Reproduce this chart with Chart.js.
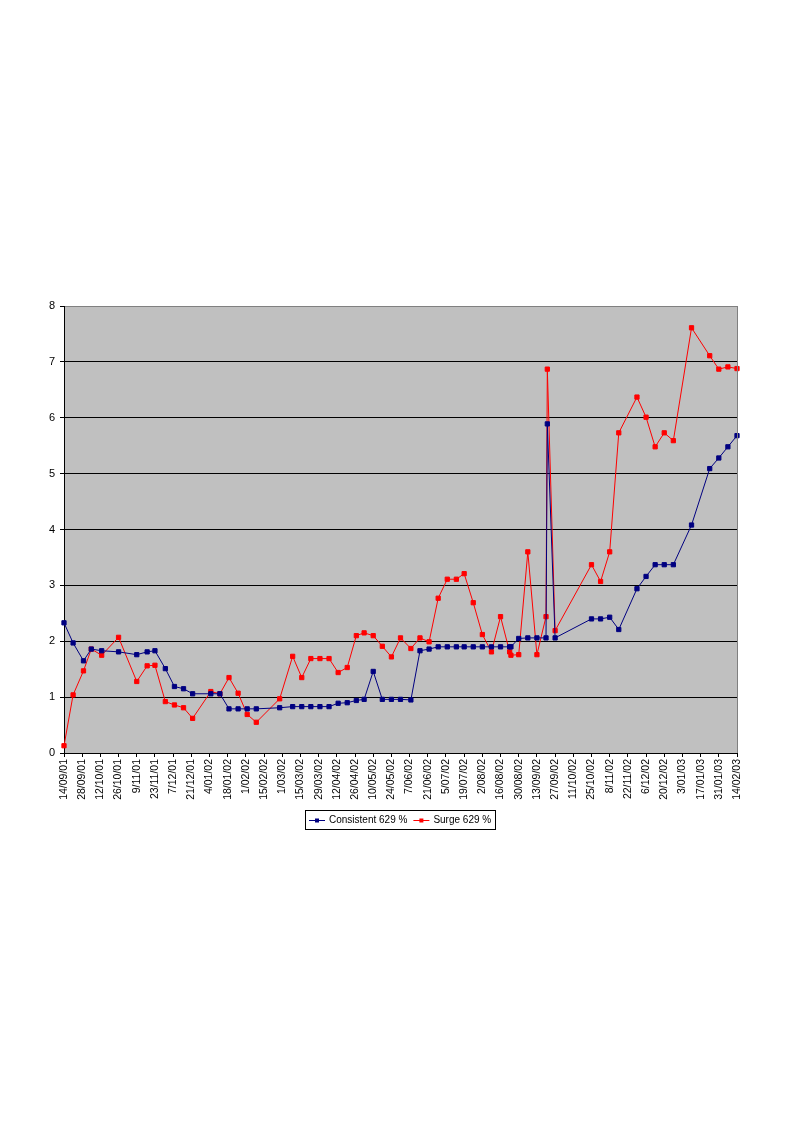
<!DOCTYPE html>
<html>
<head>
<meta charset="utf-8">
<script src="https://cdn.jsdelivr.net/npm/chart.js@4/dist/chart.umd.min.js"></script>
<style>
  html, body { margin: 0; padding: 0; background: #fff; }
  #wrap { position: absolute; left: 0; top: 0; width: 794px; height: 1123px; }
</style>
</head>
<body>
<div id="wrap"><canvas id="priceChart" width="794" height="1123"></canvas></div>
<script>
// data
const startDate = "2001-09-14";
const endDate = "2003-02-14";
const dates = [
  "2001-09-14", "2001-09-21", "2001-09-29", "2001-10-05", "2001-10-13", "2001-10-26",
  "2001-11-09", "2001-11-17", "2001-11-23", "2001-12-01", "2001-12-08", "2001-12-15",
  "2001-12-22", "2002-01-05", "2002-01-12", "2002-01-19", "2002-01-26", "2002-02-02",
  "2002-02-09", "2002-02-27", "2002-03-09", "2002-03-16", "2002-03-23", "2002-03-30",
  "2002-04-06", "2002-04-13", "2002-04-20", "2002-04-27", "2002-05-03", "2002-05-10",
  "2002-05-17", "2002-05-24", "2002-05-31", "2002-06-08", "2002-06-15", "2002-06-22",
  "2002-06-29", "2002-07-06", "2002-07-13", "2002-07-19", "2002-07-26", "2002-08-02",
  "2002-08-09", "2002-08-16", "2002-08-23", "2002-08-24", "2002-08-30", "2002-09-06",
  "2002-09-13", "2002-09-20", "2002-09-21", "2002-09-27", "2002-10-25", "2002-11-01",
  "2002-11-08", "2002-11-15", "2002-11-29", "2002-12-06", "2002-12-13", "2002-12-20",
  "2002-12-27", "2003-01-10", "2003-01-24", "2003-01-31", "2003-02-07", "2003-02-14"
];
const consistent = [
  2.33, 1.97, 1.65, 1.86, 1.83, 1.81,
  1.76, 1.81, 1.83, 1.51, 1.19, 1.15,
  1.06, 1.06, 1.06, 0.79, 0.79, 0.79,
  0.79, 0.81, 0.83, 0.83, 0.83, 0.83,
  0.83, 0.89, 0.90, 0.94, 0.96, 1.46,
  0.96, 0.96, 0.96, 0.95, 1.83, 1.86,
  1.90, 1.90, 1.90, 1.90, 1.90, 1.90,
  1.90, 1.90, 1.90, 1.90, 2.05, 2.06,
  2.06, 2.06, 5.89, 2.06, 2.40, 2.40,
  2.43, 2.21, 2.94, 3.16, 3.37, 3.37,
  3.37, 4.08, 5.09, 5.28, 5.48, 5.68
];
const surge = [
  0.13, 1.04, 1.47, 1.86, 1.75, 2.07,
  1.28, 1.56, 1.57, 0.92, 0.86, 0.81,
  0.62, 1.10, 1.06, 1.35, 1.07, 0.69,
  0.55, 0.97, 1.73, 1.35, 1.69, 1.69,
  1.69, 1.44, 1.53, 2.10, 2.15, 2.10,
  1.91, 1.72, 2.06, 1.87, 2.06, 1.99,
  2.77, 3.11, 3.11, 3.21, 2.69, 2.12,
  1.81, 2.44, 1.81, 1.75, 1.76, 3.60,
  1.76, 2.44, 6.87, 2.19, 3.37, 3.07,
  3.60, 5.73, 6.37, 6.01, 5.48, 5.73,
  5.59, 7.61, 7.11, 6.87, 6.91, 6.88
];
const seriesNames = ["Consistent 629 %", "Surge 629 %"];
const seriesColors = ["#000080", "#FF0000"];
const yTicks = [0, 1, 2, 3, 4, 5, 6, 7, 8];
const tickStepDays = 14;

const DAY = 86400000;
const t0 = Date.parse(startDate);
const toDay = (iso) => Math.round((Date.parse(iso) - t0) / DAY);
const pad2 = (n) => String(n).padStart(2, "0");
const dayLabel = (v) => {
  const d = new Date(t0 + v * DAY);
  return d.getUTCDate() + "/" + pad2(d.getUTCMonth() + 1) + "/" + pad2(d.getUTCFullYear() % 100);
};

const makeSeries = (values) => dates.map((d, i) => ({ x: toDay(d), y: values[i] }));

// grey plot area + right/top border
const plotBackground = {
  id: "plotBackground",
  beforeDraw(chart) {
    const { ctx, chartArea: a } = chart;
    ctx.save();
    ctx.fillStyle = "#C0C0C0";
    ctx.fillRect(a.left, a.top, a.right - a.left, a.bottom - a.top);
    ctx.restore();
  },
  afterDraw(chart) {
    const { ctx, chartArea: a } = chart;
    ctx.save();
    ctx.strokeStyle = "#808080";
    ctx.lineWidth = 1;
    ctx.beginPath();
    ctx.moveTo(Math.round(a.right) + 0.5, a.top);
    ctx.lineTo(Math.round(a.right) + 0.5, a.bottom);
    ctx.stroke();
    ctx.restore();
  }
};

// boxed legend under the axis labels
const boxLegend = {
  id: "boxLegend",
  afterDraw(chart) {
    const ctx = chart.ctx;
    const sets = chart.data.datasets;
    ctx.save();
    ctx.font = "10px 'Liberation Sans', Arial, sans-serif";
    const sample = 16, gap = 4, itemGap = 6, padX = 4;
    const widths = sets.map(s => sample + gap + ctx.measureText(s.label).width);
    const total = widths.reduce((a, b) => a + b, 0) + itemGap * (sets.length - 1);
    const boxW = Math.round(total + padX * 2);
    const boxH = 19;
    const cx = 400;
    const left = Math.round(cx - boxW / 2);
    const top = 810;
    ctx.fillStyle = "#fff";
    ctx.fillRect(left, top, boxW, boxH);
    ctx.strokeStyle = "#000";
    ctx.lineWidth = 1;
    ctx.strokeRect(left + 0.5, top + 0.5, boxW, boxH);
    const midY = top + boxH / 2 + 0.5;
    let x = left + padX;
    sets.forEach((s, i) => {
      ctx.strokeStyle = s.borderColor;
      ctx.beginPath();
      ctx.moveTo(x, Math.round(midY) + 0.5);
      ctx.lineTo(x + sample, Math.round(midY) + 0.5);
      ctx.stroke();
      ctx.fillStyle = s.borderColor;
      ctx.fillRect(x + sample / 2 - 2, Math.round(midY) - 1.5, 4, 4);
      ctx.fillStyle = "#000";
      ctx.textBaseline = "middle";
      ctx.fillText(s.label, x + sample + gap, midY);
      x += widths[i] + itemGap;
    });
    ctx.restore();
  }
};

const ctx = document.getElementById("priceChart");
new Chart(ctx, {
  type: "line",
  data: {
    datasets: seriesNames.map((name, i) => ({
      label: name,
      data: makeSeries(i === 0 ? consistent : surge),
      borderColor: seriesColors[i],
      backgroundColor: seriesColors[i],
      borderWidth: 1,
      pointStyle: "rect",
      pointRadius: 3,
      pointBorderWidth: 1,
      tension: 0,
      clip: false
    }))
  },
  options: {
    responsive: false,
    animation: false,
    events: [],
    layout: { padding: { top: 306, left: 0, right: 57, bottom: 1123 - 753 - 60 } },
    plugins: {
      legend: { display: false },
      tooltip: { enabled: false }
    },
    scales: {
      x: {
        type: "linear",
        min: toDay(startDate),
        max: toDay(endDate),
        afterFit: (scale) => { scale.height = 60; },
        border: { color: "#000", width: 1 },
        grid: { drawOnChartArea: false, drawTicks: true, tickLength: 4, tickColor: "#000" },
        ticks: {
          stepSize: tickStepDays,
          autoSkip: false,
          minRotation: 90,
          maxRotation: 90,
          padding: 2,
          color: "#000",
          font: { family: "'Liberation Sans', Arial, sans-serif", size: 10.5 },
          callback: (v) => dayLabel(v)
        }
      },
      y: {
        min: yTicks[0],
        max: yTicks[yTicks.length - 1],
        afterFit: (scale) => { scale.width = 64; },
        border: { color: "#000", width: 1 },
        grid: {
          color: (c) => (c.tick && c.tick.value === yTicks[yTicks.length - 1] ? "#808080" : "#000"),
          lineWidth: 1,
          tickLength: 4,
          tickColor: "#000"
        },
        ticks: {
          stepSize: 1,
          padding: 5,
          color: "#000",
          font: { family: "'Liberation Sans', Arial, sans-serif", size: 11 }
        }
      }
    }
  },
  plugins: [plotBackground, boxLegend]
});
</script>
</body>
</html>
